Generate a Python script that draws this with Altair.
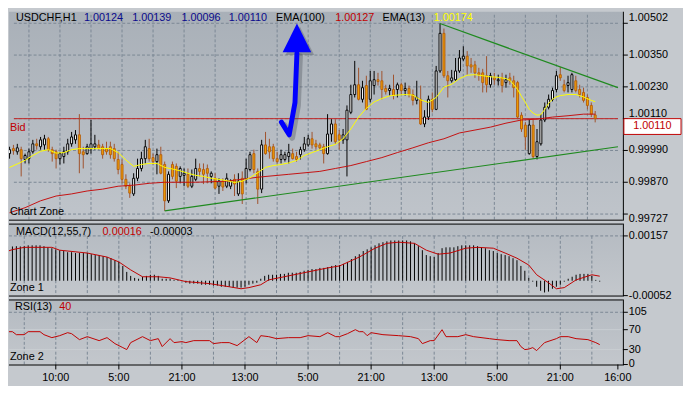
import altair as alt
import pandas as pd

# ---------------- data ----------------
candle_open = [
    0.99978, 0.99997, 0.99985, 0.99993, 0.99956, 0.99959, 0.99985, 1.00015, 1.00004, 1.00011,
    1.00034, 0.99993, 0.99985, 0.99959, 0.99967, 0.99985, 1.00015, 1.00030, 1.00049, 0.99985,
    0.99978, 0.99997, 1.00004, 1.00011, 1.00004, 0.99997, 1.00004, 0.99997, 0.99956, 0.99937,
    0.99881, 0.99855, 0.99826, 0.99885, 0.99922, 0.99959, 0.99997, 0.99963, 0.99948, 0.99974,
    0.99937, 0.99800, 0.99937, 0.99930, 0.99892, 0.99896, 0.99900, 0.99855, 0.99881, 0.99922,
    0.99918, 0.99922, 0.99892, 0.99885, 0.99855, 0.99874, 0.99855, 0.99855, 0.99881, 0.99826,
    0.99885, 0.99881, 0.99918, 0.99978, 0.99911, 0.99844, 1.00011, 1.00004, 1.00004, 0.99959,
    0.99956, 0.99956, 0.99967, 0.99978, 0.99967, 0.99974, 0.99993, 1.00011, 1.00034, 1.00015,
    1.00011, 1.00004, 0.99978, 1.00052, 1.00090, 1.00049, 1.00030, 1.00030, 1.00134, 1.00201,
    1.00238, 1.00183, 1.00235, 1.00183, 1.00235, 1.00257, 1.00253, 1.00224, 1.00216, 1.00220,
    1.00220, 1.00238, 1.00216, 1.00224, 1.00201, 1.00179, 1.00183, 1.00090, 1.00116, 1.00183,
    1.00145, 1.00290, 1.00432, 1.00272, 1.00253, 1.00257, 1.00290, 1.00335, 1.00346, 1.00313,
    1.00313, 1.00283, 1.00283, 1.00272, 1.00238, 1.00264, 1.00253, 1.00264, 1.00246, 1.00264,
    1.00253, 1.00246, 1.00123, 1.00086, 0.99978, 1.00086, 0.99967, 1.00015, 1.00105, 1.00153,
    1.00183, 1.00220, 1.00276, 1.00238, 1.00235, 1.00220, 1.00253, 1.00220, 1.00209, 1.00190,
    1.00160, 1.00124,
]
candle_high = [
    1.00004, 1.00011, 1.00015, 1.00004, 0.99978, 0.99997, 1.00030, 1.00034, 1.00041, 1.00049,
    1.00041, 1.00004, 0.99993, 0.99985, 1.00004, 1.00034, 1.00060, 1.00067, 1.00127, 1.00004,
    1.00015, 1.00105, 1.00049, 1.00030, 1.00015, 1.00023, 1.00023, 1.00015, 0.99985, 0.99956,
    0.99900, 0.99866, 0.99904, 0.99959, 0.99985, 1.00030, 1.00034, 0.99978, 0.99997, 1.00004,
    0.99948, 0.99911, 0.99948, 0.99941, 0.99930, 0.99922, 0.99922, 0.99918, 0.99959, 0.99941,
    0.99941, 0.99937, 0.99911, 0.99904, 0.99885, 0.99885, 0.99904, 0.99881, 0.99900, 0.99904,
    0.99911, 0.99959, 0.99985, 0.99993, 0.99922, 1.00030, 1.00060, 1.00034, 1.00015, 0.99985,
    0.99993, 0.99985, 1.00015, 0.99997, 0.99985, 1.00004, 1.00041, 1.00049, 1.00060, 1.00030,
    1.00019, 1.00015, 1.00127, 1.00108, 1.00108, 1.00067, 1.00071, 1.00160, 1.00238, 1.00328,
    1.00302, 1.00253, 1.00272, 1.00290, 1.00290, 1.00283, 1.00290, 1.00238, 1.00238, 1.00276,
    1.00246, 1.00246, 1.00246, 1.00235, 1.00220, 1.00253, 1.00235, 1.00142, 1.00197, 1.00209,
    1.00309, 1.00469, 1.00450, 1.00290, 1.00294, 1.00339, 1.00369, 1.00383, 1.00365, 1.00339,
    1.00328, 1.00302, 1.00298, 1.00346, 1.00283, 1.00283, 1.00276, 1.00283, 1.00276, 1.00283,
    1.00272, 1.00253, 1.00134, 1.00097, 1.00108, 1.00105, 1.00071, 1.00127, 1.00171, 1.00201,
    1.00227, 1.00290, 1.00305, 1.00257, 1.00272, 1.00283, 1.00272, 1.00238, 1.00227, 1.00201,
    1.00171, 1.00139,
]
candle_low = [
    0.99959, 0.99974, 0.99974, 0.99892, 0.99941, 0.99941, 0.99978, 0.99993, 0.99993, 0.99993,
    0.99985, 0.99948, 0.99922, 0.99937, 0.99941, 0.99974, 1.00004, 1.00015, 0.99904, 0.99922,
    0.99974, 0.99978, 0.99993, 0.99993, 0.99959, 0.99974, 0.99959, 0.99948, 0.99900, 0.99866,
    0.99844, 0.99811, 0.99818, 0.99874, 0.99911, 0.99941, 0.99948, 0.99937, 0.99900, 0.99900,
    0.99762, 0.99792, 0.99881, 0.99848, 0.99866, 0.99855, 0.99848, 0.99848, 0.99874, 0.99892,
    0.99863, 0.99866, 0.99866, 0.99844, 0.99826, 0.99837, 0.99848, 0.99844, 0.99818, 0.99818,
    0.99788, 0.99866, 0.99911, 0.99904, 0.99788, 0.99829, 0.99974, 0.99959, 0.99948, 0.99941,
    0.99941, 0.99948, 0.99941, 0.99956, 0.99948, 0.99956, 0.99985, 1.00004, 0.99997, 0.99993,
    0.99993, 0.99941, 0.99974, 1.00023, 1.00015, 0.99993, 1.00015, 0.99892, 1.00127, 1.00190,
    1.00179, 1.00171, 1.00142, 1.00171, 1.00201, 1.00235, 1.00183, 1.00201, 1.00197, 1.00183,
    1.00190, 1.00201, 1.00197, 1.00190, 1.00160, 1.00164, 1.00086, 1.00078, 1.00105, 1.00134,
    1.00142, 1.00283, 1.00264, 1.00190, 1.00246, 1.00253, 1.00283, 1.00328, 1.00276, 1.00283,
    1.00264, 1.00253, 1.00209, 1.00209, 1.00227, 1.00238, 1.00235, 1.00209, 1.00227, 1.00238,
    1.00190, 1.00108, 1.00060, 0.99993, 0.99974, 0.99959, 0.99956, 1.00008, 1.00097, 1.00145,
    1.00175, 1.00209, 1.00253, 1.00209, 1.00209, 1.00209, 1.00209, 1.00190, 1.00171, 1.00145,
    1.00116, 1.00096,
]
candle_close = [
    0.99993, 0.99989, 1.00000, 0.99959, 0.99971, 0.99985, 1.00015, 1.00008, 1.00030, 1.00034,
    0.99993, 0.99978, 0.99959, 0.99978, 0.99985, 1.00015, 1.00041, 1.00049, 0.99978, 0.99974,
    1.00004, 1.00015, 1.00015, 0.99997, 0.99974, 0.99985, 0.99974, 0.99959, 0.99918, 0.99881,
    0.99855, 0.99829, 0.99885, 0.99922, 0.99959, 1.00004, 0.99959, 0.99948, 0.99974, 0.99904,
    0.99800, 0.99900, 0.99892, 0.99874, 0.99922, 0.99904, 0.99855, 0.99892, 0.99922, 0.99911,
    0.99900, 0.99904, 0.99904, 0.99848, 0.99874, 0.99852, 0.99885, 0.99874, 0.99863, 0.99874,
    0.99826, 0.99922, 0.99974, 0.99918, 0.99844, 1.00011, 0.99978, 0.99985, 0.99959, 0.99948,
    0.99974, 0.99974, 0.99982, 0.99959, 0.99956, 0.99993, 1.00015, 1.00034, 1.00011, 1.00004,
    1.00000, 0.99978, 1.00052, 1.00090, 1.00023, 1.00030, 1.00049, 1.00142, 1.00201, 1.00238,
    1.00183, 1.00227, 1.00145, 1.00253, 1.00257, 1.00250, 1.00220, 1.00212, 1.00224, 1.00197,
    1.00238, 1.00216, 1.00224, 1.00201, 1.00179, 1.00190, 1.00090, 1.00116, 1.00183, 1.00145,
    1.00290, 1.00432, 1.00272, 1.00253, 1.00264, 1.00290, 1.00339, 1.00346, 1.00309, 1.00305,
    1.00283, 1.00276, 1.00246, 1.00238, 1.00272, 1.00257, 1.00257, 1.00235, 1.00257, 1.00253,
    1.00227, 1.00116, 1.00071, 1.00041, 1.00086, 0.99967, 1.00023, 1.00105, 1.00153, 1.00183,
    1.00216, 1.00272, 1.00264, 1.00216, 1.00246, 1.00276, 1.00216, 1.00201, 1.00179, 1.00160,
    1.00127, 1.00110,
]

ema13_idx = [0, 2, 4, 6, 8, 10, 12, 14, 16, 18, 20, 22, 24, 26, 28, 30, 32, 34, 36, 38,
             40, 42, 44, 46, 48, 50, 52, 54, 56, 58, 60, 62, 64, 66, 68, 70, 72, 74, 76, 78,
             80, 82, 84, 86, 88, 90, 92, 94, 96, 98, 100, 102, 104, 106, 108, 110, 112, 114, 116, 118,
             120, 122, 124, 126, 128, 129, 130, 131, 132, 133, 134, 135, 136, 137, 138, 139, 140, 141, 142,
             144, 146, 148, 150, 151]
ema13_val = [0.99926, 0.99939, 0.99953, 0.99971, 0.99987, 0.99993, 0.99980, 0.99982, 0.99993, 0.99997,
             0.99997, 0.99997, 0.99997, 0.99997, 0.99982, 0.99954, 0.99930, 0.99937, 0.99941, 0.99941,
             0.99926, 0.99920, 0.99913, 0.99904, 0.99896, 0.99892, 0.99885, 0.99881, 0.99876, 0.99869,
             0.99874, 0.99887, 0.99906, 0.99926, 0.99933, 0.99937, 0.99943, 0.99952, 0.99971, 0.99982,
             0.99993, 1.00004, 1.00013, 1.00034, 1.00071, 1.00116, 1.00149, 1.00173, 1.00186, 1.00196,
             1.00199, 1.00201, 1.00199, 1.00181, 1.00171, 1.00190, 1.00229, 1.00240, 1.00261, 1.00274,
             1.00276, 1.00272, 1.00268, 1.00266, 1.00261, 1.00255, 1.00238, 1.00220, 1.00194, 1.00171,
             1.00145, 1.00131, 1.00123, 1.00125, 1.00145, 1.00168, 1.00183, 1.00192, 1.00197,
             1.00201, 1.00201, 1.00192, 1.00179, 1.00174]

ema100_idx = [0, 4, 8, 12, 16, 20, 24, 28, 32, 36, 40, 48, 56, 64, 72, 80, 84, 88, 92, 96,
              100, 104, 108, 112, 116, 120, 124, 128, 132, 136, 140, 144, 148, 151]
ema100_val = [0.99755, 0.99774, 0.99800, 0.99818, 0.99826, 0.99837, 0.99844, 0.99855, 0.99859, 0.99866,
              0.99870, 0.99870, 0.99874, 0.99889, 0.99900, 0.99911, 0.99922, 0.99933, 0.99948, 0.99963,
              0.99982, 1.00000, 1.00019, 1.00034, 1.00056, 1.00067, 1.00078, 1.00093, 1.00105, 1.00108,
              1.00116, 1.00121, 1.00127, 1.00127]

trend_name = ["low", "low", "high", "high"]
trend_idx = [40, 156.875, 111, 156.875]
trend_val = [0.99762, 1.00004, 1.00469, 1.00227]

arrow_idx = [70.1, 72.1, 73.6, 74.1]
arrow_val = [1.00097, 1.00049, 1.00171, 1.00357]
arrow_head_idx = [74.1]
arrow_head_val = [1.00415]

bid_price = 1.00110
price_ticks = [0.9975, 0.9987, 0.9999, 1.0011, 1.0023, 1.0035, 1.0047]
price_tick_labels = ["", "0.99870", "0.99990", "", "1.00230", "1.00350", ""]
price_bid_label = "1.00110"
price_max_label, price_min_label = 1.00502, 0.99727

macd_hist = [
    0.00114, 0.00121, 0.00120, 0.00121, 0.00120, 0.00121, 0.00124, 0.00124, 0.00124, 0.00124,
    0.00121, 0.00117, 0.00114, 0.00110, 0.00107, 0.00104, 0.00100, 0.00100, 0.00097, 0.00097,
    0.00097, 0.00097, 0.00093, 0.00090, 0.00090, 0.00086, 0.00083, 0.00079, 0.00072, 0.00066,
    0.00052, 0.00031, 0.00017, 0.00010, 0.00007, 0.00014, 0.00017, 0.00021, 0.00021, 0.00017,
    0.00007, 0.00007, 0.00007, 0.00003, 0.00003, 0.00000, -0.00007, -0.00010, -0.00010, -0.00010,
    -0.00014, -0.00014, -0.00014, -0.00017, -0.00017, -0.00021, -0.00021, -0.00021, -0.00024, -0.00024,
    -0.00024, -0.00021, -0.00014, -0.00010, -0.00007, 0.00007, 0.00017, 0.00021, 0.00021, 0.00021,
    0.00024, 0.00024, 0.00028, 0.00028, 0.00028, 0.00031, 0.00035, 0.00038, 0.00041, 0.00041,
    0.00045, 0.00045, 0.00048, 0.00052, 0.00055, 0.00055, 0.00059, 0.00066, 0.00076, 0.00086,
    0.00093, 0.00104, 0.00110, 0.00117, 0.00124, 0.00131, 0.00135, 0.00138, 0.00141, 0.00141,
    0.00141, 0.00141, 0.00141, 0.00138, 0.00131, 0.00121, 0.00107, 0.00090, 0.00086, 0.00083,
    0.00097, 0.00114, 0.00117, 0.00117, 0.00117, 0.00121, 0.00124, 0.00124, 0.00124, 0.00124,
    0.00121, 0.00117, 0.00114, 0.00107, 0.00104, 0.00097, 0.00093, 0.00090, 0.00086, 0.00079,
    0.00072, 0.00052, 0.00035, 0.00010, -0.00003, -0.00021, -0.00035, -0.00041, -0.00038, -0.00028,
    -0.00021, -0.00014, -0.00003, 0.00007, 0.00014, 0.00021, 0.00024, 0.00024, 0.00024, 0.00017,
    0.00003, -0.00003,
]
signal_idx = [0, 2, 5, 12, 14, 21, 26, 29, 32, 35, 39, 42, 46, 52, 57, 60, 62, 65, 67, 72,
              77, 82, 85, 90, 94, 97, 100, 104, 107, 110, 113, 117, 120, 124, 127, 130, 133, 135, 138, 140,
              142, 145, 149, 151]
signal_val = [0.00100, 0.00109, 0.00117, 0.00117, 0.00107, 0.00097, 0.00083, 0.00066, 0.00038, 0.00014,
              0.00014, 0.00010, -0.00003, -0.00010, -0.00021, -0.00028, -0.00024, -0.00014, 0.00003, 0.00017,
              0.00031, 0.00045, 0.00052, 0.00083, 0.00114, 0.00131, 0.00135, 0.00131, 0.00107, 0.00093,
              0.00097, 0.00114, 0.00117, 0.00114, 0.00097, 0.00079, 0.00055, 0.00021, -0.00007, -0.00028,
              -0.00024, 0.00003, 0.00021, 0.00016]
macd_ticks = [-0.00052, 0.00157]
macd_tick_labels = ["-0.00052", "0.00157"]

rsi_idx = [0, 2, 3, 5, 6, 9, 10, 12, 14, 16, 17, 19, 21, 24, 26, 28, 30, 31, 32, 35,
           37, 39, 40, 42, 43, 45, 46, 48, 52, 53, 55, 57, 59, 62, 64, 65, 67, 69, 72, 75,
           77, 80, 82, 84, 85, 87, 89, 90, 91, 92, 93, 96, 100, 103, 105, 106, 108, 109, 111, 112,
           115, 117, 119, 123, 125, 128, 130, 131, 132, 133, 134, 135, 136, 137, 140, 141, 143, 145, 148, 150,
           151]
rsi_val = [66, 66, 60, 60, 66, 66, 60, 54, 58, 64, 62, 50, 56, 48, 54, 42, 34, 30, 44, 56,
           48, 52, 36, 52, 44, 46, 44, 48, 48, 42, 44, 44, 38, 56, 44, 58, 56, 52, 54, 54,
           58, 56, 64, 56, 56, 62, 70, 66, 66, 58, 64, 60, 58, 56, 52, 42, 48, 48, 70, 56,
           56, 60, 56, 52, 50, 48, 48, 36, 30, 31, 34, 28, 36, 44, 52, 56, 56, 52, 50, 44,
           40]
rsi_ticks = [0, 30, 70, 105]
rsi_tick_labels = ["0", "30", "70", "105"]

grid_idx = [5, 13, 21, 29, 37, 45, 53, 61, 69, 77, 85, 93, 101, 109, 117, 125, 133, 141, 149]
time_pos = [13, 29, 45, 61, 77, 93, 109, 125, 141, 155.6]
time_labels = ["10:00", "5:00", "21:00", "13:00", "5:00", "21:00", "13:00", "5:00", "21:00", "16:00"]

# ---------------- layout / style ----------------
W = 623
H_MAIN, H_MACD, H_RSI = 211, 73, 66
X_DOM = [1.125, 156.875]
P_DOM = [0.997288, 1.005135]
M_DOM = [-0.0005175, 0.002001]
R_DOM = [0, 130.7]
FONT = "Liberation Sans"
GRID = "#7b8794"
DASH = [3, 2]
BULL_FILL, BULL_LINE = "#ffffff", "#000000"
BEAR_FILL, BEAR_LINE, BEAR_WICK = "#f5a300", "#b5600f", "#a0522d"
RED = "#c00000"

XS = alt.Scale(domain=X_DOM, nice=False, zero=False)
PS = alt.Scale(domain=P_DOM, nice=False, zero=False)
MS = alt.Scale(domain=M_DOM, nice=False, zero=False)
RS = alt.Scale(domain=R_DOM, nice=False, zero=False)


def xq(field="i"):
    return alt.X(f"{field}:Q", scale=XS, axis=None)


def yq(scale, field="v"):
    return alt.Y(f"{field}:Q", scale=scale, axis=None)


def one():
    return alt.Data(values=[{}])


def bg(h, top, bottom):
    grad = alt.LinearGradient(gradient="linear", x1=0, x2=0, y1=0, y2=1,
                              stops=[alt.GradientStop(color=top, offset=0),
                                     alt.GradientStop(color=bottom, offset=1)])
    return alt.Chart(one()).mark_rect(fill=grad).encode(
        x=alt.value(0), x2=alt.value(W), y=alt.value(0), y2=alt.value(h))


def label(txt, x, y, color="#000000", align="left", size=11):
    return alt.Chart(one()).mark_text(text=txt, color=color, align=align, baseline="middle",
                                      font=FONT, fontSize=size).encode(x=alt.value(x), y=alt.value(y))


def hborder(y):
    return alt.Chart(one()).mark_rule(color="#000000", strokeWidth=1).encode(
        x=alt.value(0), x2=alt.value(W), y=alt.value(y))


def value_label(scale, value, txt, dy=0):
    return alt.Chart(pd.DataFrame({"v": [value], "t": [txt]})).mark_text(
        align="left", baseline="middle", font=FONT, fontSize=11, color="#000000", dy=dy).encode(
        x=alt.value(W + 6), y=yq(scale), text="t:N")


def right_axis(scale, values, labels, h):
    df = pd.DataFrame({"v": values, "t": labels})
    dom = alt.Chart(one()).mark_rule(color="#000000", strokeWidth=1).encode(
        x=alt.value(W + 0.5), y=alt.value(0), y2=alt.value(h + 1))
    ticks = alt.Chart(df).mark_rule(color="#000000", strokeWidth=1).encode(
        x=alt.value(W), x2=alt.value(W + 5), y=yq(scale))
    text = alt.Chart(df).mark_text(align="left", baseline="middle", font=FONT, fontSize=11,
                                   color="#000000").encode(
        x=alt.value(W + 6), y=yq(scale), text="t:N")
    return [dom, ticks, text]


def vgrid(scale, lo, hi):
    df = pd.DataFrame({"i": grid_idx, "lo": lo, "hi": hi})
    return alt.Chart(df).mark_rule(color=GRID, strokeDash=DASH, strokeWidth=1, clip=True).encode(
        x=xq(), y=yq(scale, "lo"), y2="hi:Q")


def hgrid(scale, levels, color=GRID, dash=DASH):
    df = pd.DataFrame({"v": levels, "x0": X_DOM[0], "x1": X_DOM[1]})
    kw = {"strokeDash": dash} if dash else {}
    return alt.Chart(df).mark_rule(color=color, strokeWidth=1, **kw).encode(
        x=xq("x0"), x2="x1:Q", y=yq(scale))


# ---------------- main price panel ----------------
n = len(candle_open)
candles = pd.DataFrame({"i": list(range(n)), "open": candle_open, "high": candle_high,
                        "low": candle_low, "close": candle_close})
candles["dir"] = ["up" if c >= o else "down" for o, c in zip(candle_open, candle_close)]

wicks = alt.Chart(candles).mark_rule(strokeWidth=1, clip=True).encode(
    x=xq(), y=yq(PS, "low"), y2="high:Q",
    color=alt.Color("dir:N", scale=alt.Scale(domain=["up", "down"], range=[BULL_LINE, BEAR_WICK]), legend=None))
bodies = alt.Chart(candles).mark_bar(size=2, strokeWidth=1, clip=True).encode(
    x=xq(), y=yq(PS, "open"), y2="close:Q",
    fill=alt.Fill("dir:N", scale=alt.Scale(domain=["up", "down"], range=[BULL_FILL, BEAR_FILL]), legend=None),
    stroke=alt.Stroke("dir:N", scale=alt.Scale(domain=["up", "down"], range=[BULL_LINE, BEAR_LINE]), legend=None))

ema100 = alt.Chart(pd.DataFrame({"i": ema100_idx, "v": ema100_val})).mark_line(
    color="#c41010", strokeWidth=1, clip=True).encode(x=xq(), y=yq(PS))
ema13 = alt.Chart(pd.DataFrame({"i": ema13_idx, "v": ema13_val})).mark_line(
    color="#ffff00", strokeWidth=1, clip=True).encode(x=xq(), y=yq(PS))

trend = alt.Chart(pd.DataFrame({"i": trend_idx, "v": trend_val, "k": trend_name})).mark_line(
    color="#1f8a1f", strokeWidth=1.2, clip=True).encode(x=xq(), y=yq(PS), detail="k:N")

bid_df = pd.DataFrame({"v": [bid_price], "x0": X_DOM[0], "x1": X_DOM[1], "t": [f"{bid_price:.5f}"]})
bid_line = alt.Chart(bid_df).mark_rule(color="#c42424", strokeWidth=1).encode(
    x=xq("x0"), x2="x1:Q", y=yq(PS))
bid_box = alt.Chart(bid_df).mark_point(
    shape="M-1,-0.276L1,-0.276L1,0.276L-1,0.276Z", size=3364, filled=True, fill="#ffffff",
    stroke="#c00000", strokeWidth=1, opacity=1, fillOpacity=1, yOffset=8).encode(
    x=alt.value(W + 30), y=yq(PS))
bid_text = alt.Chart(bid_df).mark_text(color="#c00000", font=FONT, fontSize=11, align="center",
                                       baseline="middle", dy=8).encode(
    x=alt.value(W + 30), y=yq(PS), text="t:N")

arrow_df = pd.DataFrame({"i": arrow_idx, "v": arrow_val, "k": list(range(len(arrow_idx)))})
arrow_shadow = alt.Chart(arrow_df).mark_line(
    color="#4a5058", strokeWidth=6, opacity=0.35, xOffset=3, yOffset=3,
    strokeCap="round", strokeJoin="round").encode(x=xq(), y=yq(PS), order="k:Q")
arrow_shaft = alt.Chart(arrow_df).mark_line(
    color="#0000ff", strokeWidth=5, strokeCap="round", strokeJoin="round").encode(
    x=xq(), y=yq(PS), order="k:Q")
head_df = pd.DataFrame({"i": arrow_head_idx, "v": arrow_head_val})
head_shadow = alt.Chart(head_df).mark_point(
    shape="M0,-1L1,1L-1,1Z", size=841, filled=True, color="#4a5058", opacity=0.35,
    xOffset=3, yOffset=3).encode(x=xq(), y=yq(PS))
arrow_head = alt.Chart(head_df).mark_point(
    shape="M0,-1L1,1L-1,1Z", size=841, filled=True, color="#0000ff", opacity=1).encode(
    x=xq(), y=yq(PS))

TY = 6
main = alt.layer(
    bg(H_MAIN, "#a9b0b8", "#bfc4ca"),
    vgrid(PS, P_DOM[0], price_max_label),
    hgrid(PS, price_ticks),
    bid_line,
    wicks, bodies,
    trend, ema100, ema13,
    arrow_shadow, head_shadow, arrow_shaft, arrow_head,
    *right_axis(PS, price_ticks, price_tick_labels, H_MAIN),
    value_label(PS, price_max_label, f"{price_max_label:.5f}", dy=3),
    value_label(PS, price_min_label, f"{price_min_label:.5f}", dy=-1),
    value_label(PS, bid_price, price_bid_label, dy=-5),
    bid_box, bid_text,
    hborder(H_MAIN + 0.5),
    label("USDCHF,H1", 7, TY),
    label("1.00124", 76, TY, "#0a0a8c"),
    label("1.00139", 125, TY, "#0a0a8c"),
    label("1.00096", 175, TY, "#0a0a8c"),
    label("1.00110", 223, TY, "#0a0a8c"),
    label("EMA(100)", 271, TY),
    label("1.00127", 331, TY, RED),
    label("EMA(13)", 379, TY),
    label("1.00174", 431, TY, "#ffff00"),
    label("Bid", 1, 118, "#c00000"),
    label("Chart Zone", 1, 203),
).properties(width=W, height=H_MAIN)

# ---------------- MACD panel ----------------
macd_df = pd.DataFrame({"i": list(range(n)), "v": macd_hist, "z": 0.0})
hist = alt.Chart(macd_df).mark_rule(color="#000000", strokeWidth=1, clip=True).encode(
    x=xq(), y=yq(MS), y2="z:Q")
signal = alt.Chart(pd.DataFrame({"i": signal_idx, "v": signal_val})).mark_line(
    color=RED, strokeWidth=1, clip=True).encode(x=xq(), y=yq(MS))

macd = alt.layer(
    bg(H_MACD, "#b4bac1", "#c3c7cc"),
    vgrid(MS, macd_ticks[1], M_DOM[0]),
    hgrid(MS, [macd_ticks[1]]),
    hist, signal,
    *right_axis(MS, macd_ticks, macd_tick_labels, H_MACD),
    hborder(0.5), hborder(H_MACD + 0.5),
    label("MACD(12,55,7)", 7, 9),
    label("0.00016", 95, 9, RED),
    label("-0.00003", 143, 9),
    label("Zone 1", 1, 65),
).properties(width=W, height=H_MACD)

# ---------------- RSI panel ----------------
rsi_line = alt.Chart(pd.DataFrame({"i": rsi_idx, "v": rsi_val})).mark_line(
    color=RED, strokeWidth=1, clip=True).encode(x=xq(), y=yq(RS))

time_df = pd.DataFrame({"i": time_pos, "t": time_labels})
time_ticks = alt.Chart(time_df).mark_rule(color="#000000", strokeWidth=1).encode(
    x=xq(), y=alt.value(H_RSI), y2=alt.value(H_RSI + 5))
time_text = alt.Chart(time_df).mark_text(align="center", baseline="middle", font=FONT, fontSize=11,
                                         color="#000000").encode(
    x=xq(), y=alt.value(H_RSI + 14), text="t:N")

rsi = alt.layer(
    bg(H_RSI, "#b4bac1", "#c3c7cc"),
    vgrid(RS, 0, 105),
    hgrid(RS, [105]),
    hgrid(RS, [30, 70], color="#c9cdd2", dash=None),
    rsi_line,
    *right_axis(RS, rsi_ticks, rsi_tick_labels, H_RSI),
    hborder(0.5), hborder(H_RSI + 0.5),
    time_ticks, time_text,
    label("RSI(13)", 6, 8),
    label("40", 51, 8, RED),
    label("Zone 2", 1, 58),
).properties(width=W, height=H_RSI)

chart = alt.vconcat(main, macd, rsi, spacing=4, bounds="flush").properties(
    padding=0, background="#c5c9ce"
).configure_view(stroke=None)

chart.save("out.html", embed_options={"renderer": "svg", "actions": False})
